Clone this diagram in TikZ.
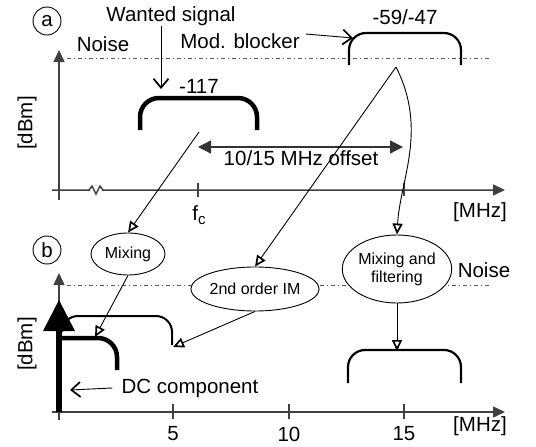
\documentclass[tikz,border=0pt]{standalone}
\usepackage{fontspec}
\setmainfont{Liberation Sans}
\usetikzlibrary{arrows.meta,shapes.geometric}
\begin{document}
\begin{tikzpicture}[x=1pt,y=-1pt,
  big/.style={font=\fontsize{20.5}{24}\selectfont, inner sep=0pt},
  small/.style={font=\fontsize{16}{18}\selectfont, align=center},
  oval/.style={ellipse, draw, line width=0.9pt, fill=white, inner sep=0pt, small},
  lbl/.style={circle, draw, line width=0.9pt, minimum size=28pt, inner sep=0pt, big},
  axis/.style={draw=black!75, line width=1.5pt, -{Triangle[length=12pt 0 0, width=11pt 0 0]}},
  tick/.style={draw=black!75, line width=1.2pt},
  noiseline/.style={draw=black!65, line width=0.9pt, dash pattern=on 4pt off 3pt on 1pt off 3pt},
  conn/.style={draw, line width=0.9pt},
  opentip/.style={-{Triangle[open, length=11pt 0 0, width=10pt 0 0, line width=1.7pt]}},
  barb/.style={-{Straight Barb[length=9pt 0 0, width=15pt 0 0, line width=1.7pt]}},
  thickbump/.style={draw, line width=4.5pt, rounded corners=19pt},
  thinbump/.style={draw, line width=2.2pt, rounded corners=17pt},
]
\useasboundingbox (0,0) rectangle (536,447);

% ---------------- panel a ----------------
\draw[noiseline] (67,58) -- (490,58);
\draw[axis] (59,200) -- (59,50);
\draw[axis] (52,190) -- (89,190) -- (92,186) -- (96,194) -- (100,186) -- (103,190) -- (505,190);
\draw[tick] (198,183) -- (198,197);
\draw[tick] (404,183) -- (404,196);

\node[lbl] (lblA) at (47,21) {a};
\node[big] (noiseA) at (103,44) {Noise};
\node[big] (wanted) at (171,16) {Wanted signal};
\node[big] (modb) at (240,41) {Mod. blocker};
\node[big] (v117) at (199,86) {-117};
\node[big] (v59) at (405,17) {-59/-47};
\node[big, rotate=90] (dbmA) at (27,123) {[dBm]};
\node[big] (fc) at (199,215) {f\raisebox{-0.35ex}{\fontsize{15}{15}\selectfont c}};
\node[big] (mhzA) at (480,212) {[MHz]};
\node[big] (offs) at (301,158) {10/15 MHz offset};

% wanted signal bump
\draw[thickbump] (140,130) -- (140,98) -- (257,98) -- (257,130);
% blocker bump
\draw[thinbump] (349,65) -- (349,33) -- (461,33) -- (461,65);

\coordinate (wantedTip) at (161,89);
\coordinate (blockTip) at (353,38);
\coordinate (wantedOut) at (199,132);
\coordinate (blockOut) at (396,67);
\coordinate (offL) at (198,147);
\coordinate (offR) at (403,147);

\draw[conn, barb] ([xshift=-10pt]wanted.south) -- (wantedTip);
\draw[conn, barb] ([shift={(6,-7)}]modb.east) -- (blockTip);
\draw[draw=black!80, line width=1.3pt, {Triangle[length=13pt 0 0, width=13pt 0 0]}-{Triangle[length=13pt 0 0, width=13pt 0 0]}] (offL) -- (offR);

% ---------------- panel b ----------------
\draw[noiseline] (67,285) -- (490,285);
\draw[axis] (59,420) -- (59,273);
\draw[axis] (52,412) -- (505,412);
\draw[tick] (173,404) -- (173,419);
\draw[tick] (289,404) -- (289,419);
\draw[tick] (404,404) -- (404,419);

% 2nd order IM products (thin) and mixed wanted signal (thick)
\draw[draw, line width=2pt, rounded corners=16pt] (62,330) -- (62,316) -- (172,316) -- (172,345);
\draw[thickbump] (59,338) -- (117,338) -- (117,370);
% DC component
\draw[line width=6pt] (59,412) -- (59,328);
\fill (59,300) -- (75,331) -- (43,331) -- cycle;
% filtered blocker
\draw[thinbump] (348,383) -- (348,350) -- (461,350) -- (461,383);

\coordinate (mixTip) at (95,337);
\coordinate (imTip) at (173,347);
\coordinate (dcTip) at (70,390);
\coordinate (filtTip) at (397,351);

\node[lbl] (lblB) at (47,250) {b};
\node[big, rotate=90] (dbmB) at (27,344) {[dBm]};
\node[big] (noiseB) at (484,270) {Noise};
\node[oval, minimum width=74pt, minimum height=42pt] (mix) at (128,254) {Mixing};
\node[oval, minimum width=116pt, minimum height=44pt] (im) at (255,289) {2nd order IM};
\node[oval, minimum width=108pt, minimum height=68pt] (mf) at (397,269) {Mixing and\\filtering};
\node[big] (dc) at (190,388) {DC component};
\node[big] (t5) at (173,434) {5};
\node[big] (t10) at (289,434) {10};
\node[big] (t15) at (404,434) {15};
\node[big] (mhzB) at (480,426) {[MHz]};

% ---------------- connectors ----------------
\draw[conn, opentip] (wantedOut) -- (mix.north);
\draw[conn, opentip] (blockOut) -- (im.north);
\draw[conn, opentip] (blockOut) .. controls (428,130) and (400,180) .. (mf.north);
\draw[conn, opentip] (mix.south) -- (mixTip);
\draw[conn, opentip] (im.south) -- (imTip);
\draw[conn, opentip] (mf.south) -- (filtTip);
\draw[conn, barb] ([xshift=-9pt]dc.west) -- (dcTip);
\end{tikzpicture}
\end{document}
